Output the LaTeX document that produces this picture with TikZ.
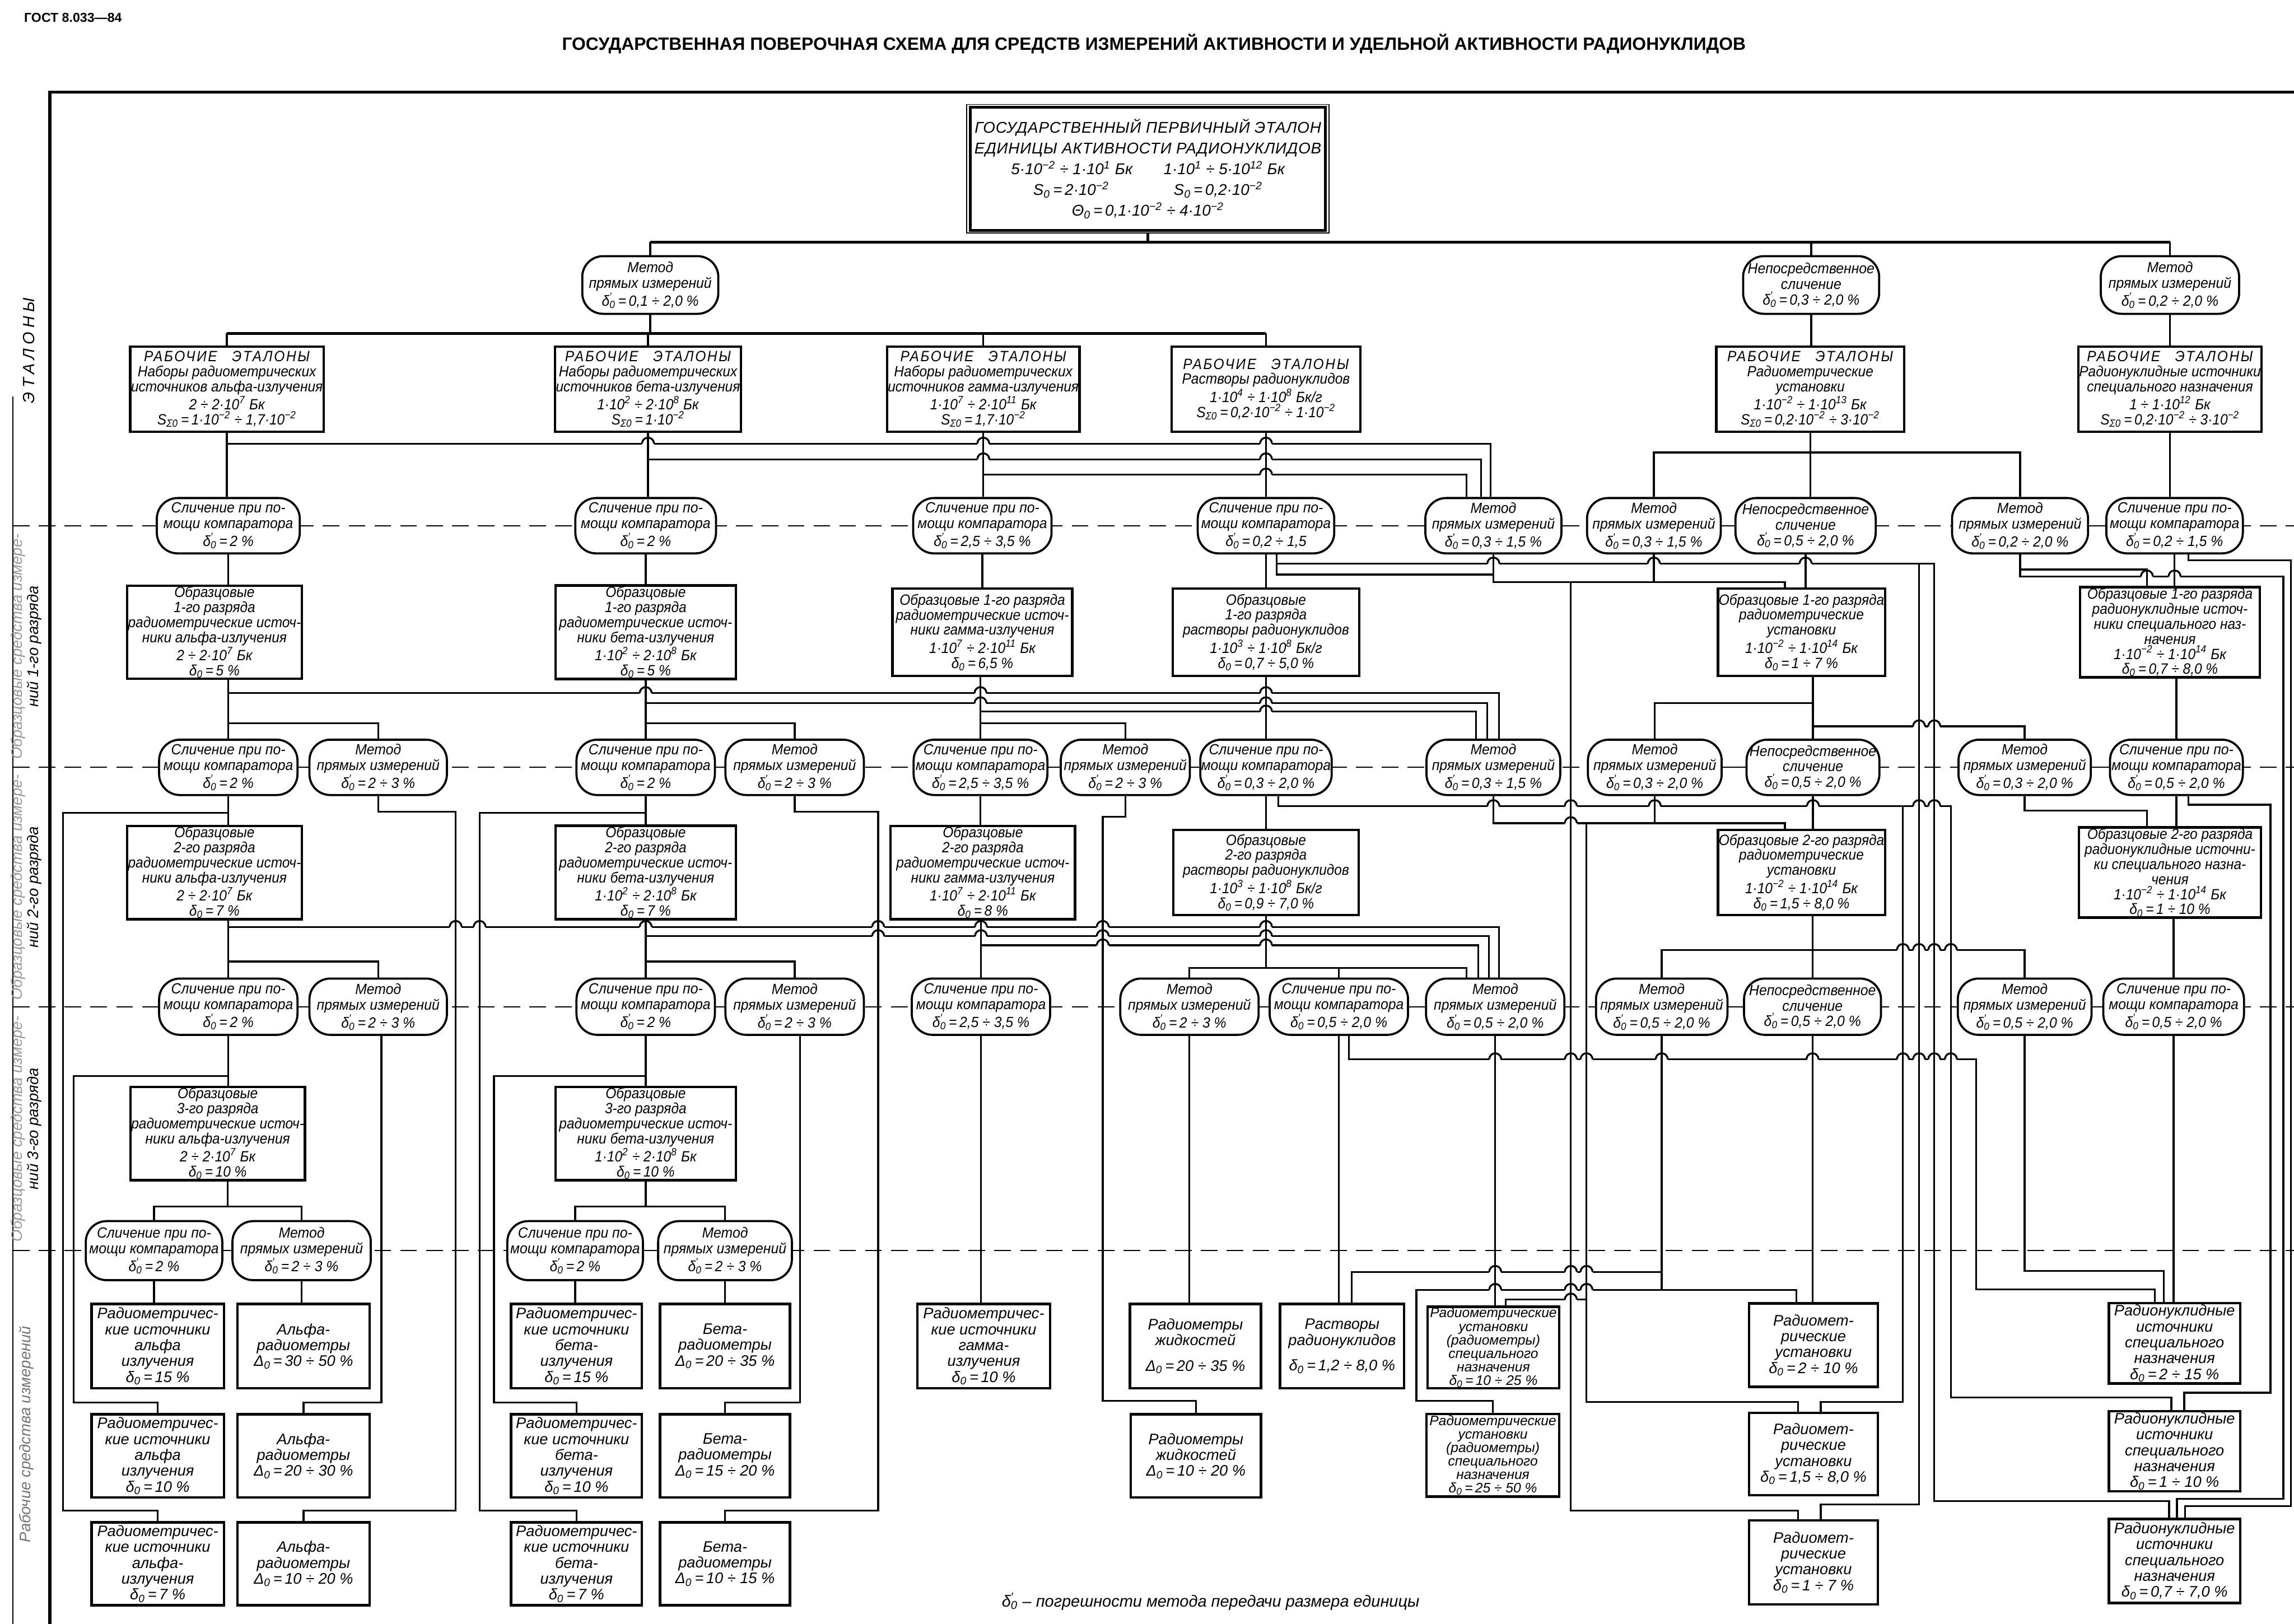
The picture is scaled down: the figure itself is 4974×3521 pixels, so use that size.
\documentclass[tikz,border=0pt]{standalone}
\usepackage{fontspec}
\setmainfont{Liberation Sans}
\newfontfamily\gfam{Liberation Sans}[FakeStretch=0.92]
\newfontfamily\gnorm{Liberation Sans}
\newfontfamily\gcap{Liberation Sans}[FakeStretch=0.94]
\usetikzlibrary{calc}
\newcommand\fB{\gfam\itshape\fontsize{9.2}{9.3}\selectfont}
\newcommand\fR{\gnorm\itshape\fontsize{9.4}{9.8}\selectfont}
\newcommand\fRs{\gnorm\itshape\fontsize{8.5}{8.3}\selectfont}
\newcommand\fC{\gcap\itshape\fontsize{9.1}{9.6}\selectfont}
\newcommand\tE[1]{\textsuperscript{#1}}
\newcommand\tdz{δ\textsubscript{0}}
\newcommand\tdzp{δ\rlap{\textsuperscript{′}}\textsubscript{0}}
\newcommand\tDZ{Δ\textsubscript{0}}
\newcommand\tSZ{S\textsubscript{Σ0}}
\newcommand\tRE{{\addfontfeature{LetterSpace=10}РАБОЧИЕ\quad ЭТАЛОНЫ}}
\newcommand\tSL[1]{Сличение при по-\\мощи компаратора\\\tdzp\,=\,#1}
\newcommand\tMT[1]{Метод\\прямых измерений\\\tdzp\,=\,#1}
\newcommand\tNS[1]{Непосредственное\\сличение\\\tdzp\,=\,#1}
\newcommand\nBX[5]{\node[bx,minimum width=#3mm,minimum height=#4mm] (#1) at (#2) {#5};}
\newcommand\nRB[5]{\node[rb,minimum width=#3mm,minimum height=#4mm] (#1) at (#2) {#5};}
\newcommand\nCP[5]{\node[capsule,minimum width=#3mm,minimum height=#4mm] (#1) at (#2) {#5};}
\newcommand\jmpx[2]{\fill[white] ({#1-13},{#2-4}) rectangle ({#1+13},{#2+4});\draw[wire] (#1,{#2-17}) -- (#1,{#2+17});\draw[wire] ({#1-13},#2) arc[start angle=180,end angle=0,radius=1.3mm];}
\begin{document}
\begin{tikzpicture}[x=0.1mm,y=-0.1mm,
 bx/.style={draw,line width=1.5pt,fill=white,align=center,inner sep=0.5pt,font=\fB},
 rb/.style={draw,line width=1.5pt,fill=white,align=center,inner sep=0.5pt,font=\fR},
 capsule/.style={draw,line width=1.3pt,fill=white,rounded corners=4.5mm,align=center,inner sep=0pt,font=\fC},
 wire/.style={line width=1.15pt},
 bus/.style={line width=1.9pt},
 dl/.style={line width=0.6pt,dash pattern=on 3.6mm off 2mm},
 lnk/.style={line width=0.8pt}]
\useasboundingbox (0,0) rectangle (4974,3521);
% frame and dashed lines
\draw[line width=1.8pt] (108,3521) -- (108,200) -- (4974,200);
\draw[line width=0.5pt] (28,860) -- (28,3521);
\foreach \yy in {1140,1664,2183,2712} \draw[dl] (28,\yy) -- (4974,\yy);
% titles
\node[anchor=west,font=\gnorm\bfseries\fontsize{8}{9}\selectfont] (gost) at (40,38) {ГОСТ 8.033—84};
\node[font=\gnorm\bfseries\fontsize{11}{13}\selectfont] (title) at (2502,95) {ГОСУДАРСТВЕННАЯ ПОВЕРОЧНАЯ СХЕМА ДЛЯ СРЕДСТВ ИЗМЕРЕНИЙ АКТИВНОСТИ И УДЕЛЬНОЙ АКТИВНОСТИ РАДИОНУКЛИДОВ};
% side labels
\node[rotate=90,font=\gnorm\itshape\fontsize{10}{11}\selectfont] (lab0) at (62,760) {{\addfontfeature{LetterSpace=25}ЭТАЛОНЫ}};
\node[rotate=90,align=center,font=\gnorm\itshape\fontsize{9.5}{10}\selectfont] (lab1) at (57,1402) {{\color{black!40}Образцовые средства измере-}\\ний 1-го разряда};
\node[rotate=90,align=center,font=\gnorm\itshape\fontsize{9.5}{10}\selectfont] (lab2) at (57,1924) {{\color{black!40}Образцовые средства измере-}\\ний 2-го разряда};
\node[rotate=90,align=center,font=\gnorm\itshape\fontsize{9.5}{10}\selectfont] (lab3) at (57,2448) {{\color{black!40}Образцовые средства измере-}\\ний 3-го разряда};
\node[rotate=90,align=center,font=\gnorm\itshape\fontsize{9.5}{10}\selectfont,text=black!55] (lab4) at (57,3110) {Рабочие средства измерений};
% main box
\node[draw,line width=0.6pt,fill=white,minimum width=78.6mm,minimum height=27.9mm,align=center,inner sep=0pt,font=\gnorm\itshape\fontsize{9.6}{12.8}\selectfont] (main) at (2489,366)
 {{\addfontfeature{LetterSpace=3}ГОСУДАРСТВЕННЫЙ ПЕРВИЧНЫЙ ЭТАЛОН}\\
  {\addfontfeature{LetterSpace=3}ЕДИНИЦЫ АКТИВНОСТИ РАДИОНУКЛИДОВ}\\
  5·10\tE{−2} ÷ 1·10\tE{1} Бк\qquad 1·10\tE{1} ÷ 5·10\tE{12} Бк\\
  S\textsubscript{0}\,=\,2·10\tE{−2}\hspace{14mm}S\textsubscript{0}\,=\,0,2·10\tE{−2}\\
  Θ\textsubscript{0}\,=\,0,1·10\tE{−2} ÷ 4·10\tE{−2}};
\draw[line width=1.8pt] ($(main.south west)+(9,-7)$) rectangle ($(main.north east)+(-9,7)$);
% row A
\nCP{M1}{1410,618}{29.5}{12.5}{\tMT{0,1 ÷ 2,0 \%}}
\nCP{N1}{3927,618}{29.5}{12.5}{\tNS{0,3 ÷ 2,0 \%}}
\nCP{M2}{4705,618}{30}{12.5}{\tMT{0,2 ÷ 2,0 \%}}
% row B
\nBX{W1}{492,844}{41.3}{18.4}{\tRE\\Наборы радиометрических\\источников альфа-излучения\\2 ÷ 2·10\tE{7} Бк\\\tSZ\,=\,1·10\tE{−2} ÷ 1,7·10\tE{−2}}
\nBX{W2}{1405,844}{40.3}{18.4}{\tRE\\Наборы радиометрических\\источников бета-излучения\\1·10\tE{2} ÷ 2·10\tE{8} Бк\\\tSZ\,=\,1·10\tE{−2}}
\nBX{W3}{2132,844}{40.0}{18.4}{\tRE\\Наборы радиометрических\\источников гамма-излучения\\1·10\tE{7} ÷ 2·10\tE{11} Бк\\\tSZ\,=\,1,7·10\tE{−2}}
\nBX{W4}{2745,844}{40.9}{18.4}{\tRE\\Растворы радионуклидов\\1·10\tE{4} ÷ 1·10\tE{8} Бк/г\\\tSZ\,=\,0,2·10\tE{−2} ÷ 1·10\tE{−2}}
\nBX{W5}{3925,844}{40.7}{18.4}{\tRE\\Радиометрические\\установки\\1·10\tE{−2} ÷ 1·10\tE{13} Бк\\\tSZ\,=\,0,2·10\tE{−2} ÷ 3·10\tE{−2}}
\nBX{W6}{4705,844}{39.0}{18.4}{\tRE\\Радионуклидные источники\\специального назначения\\1 ÷ 1·10\tE{12} Бк\\\tSZ\,=\,0,2·10\tE{−2} ÷ 3·10\tE{−2}}
% row C
\nCP{C1a}{495,1140}{31}{12}{\tSL{2 \%}}
\nCP{C2a}{1400,1140}{30.5}{12}{\tSL{2 \%}}
\nCP{C3a}{2130,1140}{30}{12}{\tSL{2,5 ÷ 3,5 \%}}
\nCP{C4a}{2745,1140}{29.6}{12}{\tSL{0,2 ÷ 1,5}}
\nCP{C4b}{3238,1140}{29.5}{12}{\tMT{0,3 ÷ 1,5 \%}}
\nCP{C5a}{3586,1140}{29}{12}{\tMT{0,3 ÷ 1,5 \%}}
\nCP{C5b}{3915,1140}{30.4}{12}{\tNS{0,5 ÷ 2,0 \%}}
\nCP{C6a}{4380,1140}{29.5}{12}{\tMT{0,2 ÷ 2,0 \%}}
\nCP{C6b}{4715,1140}{29.6}{12}{\tSL{0,2 ÷ 1,5 \%}}
% row D
\nBX{G1a}{465,1371}{37.1}{19}{Образцовые\\1-го разряда\\радиометрические источ-\\ники альфа-излучения\\2 ÷ 2·10\tE{7} Бк\\\tdz\,=\,5 \%}
\nBX{G1b}{1400,1371}{39.1}{19}{Образцовые\\1-го разряда\\радиометрические источ-\\ники бета-излучения\\1·10\tE{2} ÷ 2·10\tE{8} Бк\\\tdz\,=\,5 \%}
\nBX{G1c}{2130,1371}{39.0}{19}{Образцовые 1-го разряда\\радиометрические источ-\\ники гамма-излучения\\1·10\tE{7} ÷ 2·10\tE{11} Бк\\\tdz\,=\,6,5 \%}
\nBX{G1d}{2745,1371}{40.4}{19}{Образцовые\\1-го разряда\\растворы радионуклидов\\1·10\tE{3} ÷ 1·10\tE{8} Бк/г\\\tdz\,=\,0,7 ÷ 5,0 \%}
\nBX{G1e}{3906,1371}{35.8}{19}{Образцовые 1-го разряда\\радиометрические\\установки\\1·10\tE{−2} ÷ 1·10\tE{14} Бк\\\tdz\,=\,1 ÷ 7 \%}
\nBX{G1f}{4705,1371}{39.0}{19}{Образцовые 1-го разряда\\радионуклидные источ-\\ники специального наз-\\начения\\1·10\tE{−2} ÷ 1·10\tE{14} Бк\\\tdz\,=\,0,7 ÷ 8,0 \%}
% row E
\nCP{C1b}{495,1664}{30}{12}{\tSL{2 \%}}
\nCP{C1c}{820,1664}{29.8}{12}{\tMT{2 ÷ 3 \%}}
\nCP{C2b}{1400,1664}{30}{12}{\tSL{2 \%}}
\nCP{C2c}{1723,1664}{30}{12}{\tMT{2 ÷ 3 \%}}
\nCP{C3b}{2126,1664}{29}{12}{\tSL{2,5 ÷ 3,5 \%}}
\nCP{C3c}{2440,1664}{28}{12}{\tMT{2 ÷ 3 \%}}
\nCP{C4c}{2745,1664}{28.5}{12}{\tSL{0,3 ÷ 2,0 \%}}
\nCP{C4d}{3238,1664}{29}{12}{\tMT{0,3 ÷ 1,5 \%}}
\nCP{C5c}{3588,1664}{29}{12}{\tMT{0,3 ÷ 2,0 \%}}
\nCP{C5d}{3931,1664}{28.8}{12}{\tNS{0,5 ÷ 2,0 \%}}
\nCP{C6c}{4390,1664}{28.7}{12}{\tMT{0,3 ÷ 2,0 \%}}
\nCP{C6d}{4719,1664}{28.8}{12}{\tSL{0,5 ÷ 2,0 \%}}
% row F
\nBX{G2a}{465,1892}{37.1}{18.4}{Образцовые\\2-го разряда\\радиометрические источ-\\ники альфа-излучения\\2 ÷ 2·10\tE{7} Бк\\\tdz\,=\,7 \%}
\nBX{G2b}{1400,1892}{39.1}{18.4}{Образцовые\\2-го разряда\\радиометрические источ-\\ники бета-излучения\\1·10\tE{2} ÷ 2·10\tE{8} Бк\\\tdz\,=\,7 \%}
\nBX{G2c}{2131,1892}{40}{18.4}{Образцовые\\2-го разряда\\радиометрические источ-\\ники гамма-излучения\\1·10\tE{7} ÷ 2·10\tE{11} Бк\\\tdz\,=\,8 \%}
\nBX{G2d}{2745,1892}{40.2}{18.4}{Образцовые\\2-го разряда\\растворы радионуклидов\\1·10\tE{3} ÷ 1·10\tE{8} Бк/г\\\tdz\,=\,0,9 ÷ 7,0 \%}
\nBX{G2e}{3906,1892}{35.8}{18.4}{Образцовые 2-го разряда\\радиометрические\\установки\\1·10\tE{−2} ÷ 1·10\tE{14} Бк\\\tdz\,=\,1,5 ÷ 8,0 \%}
\nBX{G2f}{4705,1892}{39.5}{18.4}{Образцовые 2-го разряда\\радионуклидные источни-\\ки специального назна-\\чения\\1·10\tE{−2} ÷ 1·10\tE{14} Бк\\\tdz\,=\,1 ÷ 10 \%}
% row G
\nCP{C1d}{495,2183}{30}{12.2}{\tSL{2 \%}}
\nCP{C1e}{820,2183}{29.8}{12.2}{\tMT{2 ÷ 3 \%}}
\nCP{C2d}{1400,2183}{30}{12.2}{\tSL{2 \%}}
\nCP{C2e}{1723,2183}{30}{12.2}{\tMT{2 ÷ 3 \%}}
\nCP{C3d}{2127,2183}{30}{12.2}{\tSL{2,5 ÷ 3,5 \%}}
\nCP{C4e}{2579,2183}{30}{12.2}{\tMT{2 ÷ 3 \%}}
\nCP{C4f}{2903,2183}{30}{12.2}{\tSL{0,5 ÷ 2,0 \%}}
\nCP{C4g}{3242,2183}{30}{12.2}{\tMT{0,5 ÷ 2,0 \%}}
\nCP{C5e}{3603,2183}{28.5}{12.2}{\tMT{0,5 ÷ 2,0 \%}}
\nCP{C5f}{3930,2183}{29.7}{12.2}{\tNS{0,5 ÷ 2,0 \%}}
\nCP{C6e}{4390,2183}{29}{12.2}{\tMT{0,5 ÷ 2,0 \%}}
\nCP{C6f}{4713,2183}{30.5}{12.2}{\tSL{0,5 ÷ 2,0 \%}}
% row H
\nBX{G3a}{472,2458}{35.5}{19}{Образцовые\\3-го разряда\\радиометрические источ-\\ники альфа-излучения\\2 ÷ 2·10\tE{7} Бк\\\tdz\,=\,10 \%}
\nBX{G3b}{1400,2458}{39.1}{19}{Образцовые\\3-го разряда\\радиометрические источ-\\ники бета-излучения\\1·10\tE{2} ÷ 2·10\tE{8} Бк\\\tdz\,=\,10 \%}
% row I
\nCP{C1f}{334,2712}{29.6}{12.8}{\tSL{2 \%}}
\nCP{C1g}{654,2712}{30}{12.8}{\tMT{2 ÷ 3 \%}}
\nCP{C2f}{1247,2712}{29.4}{12.8}{\tSL{2 \%}}
\nCP{C2g}{1572,2712}{29}{12.8}{\tMT{2 ÷ 3 \%}}
% working instruments
\nRB{R1a}{342,2919}{28.7}{18.3}{Радиометричес-\\кие источники\\альфа\\излучения\\\tdz\,=\,15 \%}
\nRB{R1b}{658,2919}{28.7}{18.3}{Альфа-\\радиометры\\\tDZ\,=\,30 ÷ 50 \%}
\nRB{R1c}{342,3157}{28.7}{18}{Радиометричес-\\кие источники\\альфа\\излучения\\\tdz\,=\,10 \%}
\nRB{R1d}{658,3157}{28.7}{18}{Альфа-\\радиометры\\\tDZ\,=\,20 ÷ 30 \%}
\nRB{R1e}{342,3391}{28.7}{18}{Радиометричес-\\кие источники\\альфа-\\излучения\\\tdz\,=\,7 \%}
\nRB{R1f}{658,3391}{28.7}{18}{Альфа-\\радиометры\\\tDZ\,=\,10 ÷ 20 \%}
\nRB{R2a}{1250,2919}{28.4}{18.3}{Радиометричес-\\кие источники\\бета-\\излучения\\\tdz\,=\,15 \%}
\nRB{R2b}{1572,2919}{28.2}{18.3}{Бета-\\радиометры\\\tDZ\,=\,20 ÷ 35 \%}
\nRB{R2c}{1250,3157}{28.4}{18}{Радиометричес-\\кие источники\\бета-\\излучения\\\tdz\,=\,10 \%}
\nRB{R2d}{1572,3157}{28.2}{18}{Бета-\\радиометры\\\tDZ\,=\,15 ÷ 20 \%}
\nRB{R2e}{1250,3391}{28.4}{18}{Радиометричес-\\кие источники\\бета-\\излучения\\\tdz\,=\,7 \%}
\nRB{R2f}{1572,3391}{28.2}{18}{Бета-\\радиометры\\\tDZ\,=\,10 ÷ 15 \%}
\nRB{R3a}{2133,2919}{28.8}{18.3}{Радиометричес-\\кие источники\\гамма-\\излучения\\\tdz\,=\,10 \%}
\nRB{R4a}{2592,2919}{28.4}{18.3}{Радиометры\\жидкостей\\[1.2ex]\tDZ\,=\,20 ÷ 35 \%}
\nRB{R4b}{2910,2919}{26.9}{18.3}{Растворы\\радионуклидов\\[1.2ex]\tdz\,=\,1,2 ÷ 8,0 \%}
\nRB{R4c}{2593,3157}{28.2}{18}{Радиометры\\жидкостей\\\tDZ\,=\,10 ÷ 20 \%}
\node[rb,font=\fRs,minimum width=28.6mm,minimum height=17.7mm] (R5a) at (3238,2922) {Радиометрические\\установки\\(радиометры)\\специального\\назначения\\\tdz\,=\,10 ÷ 25 \%};
\node[rb,font=\fRs,minimum width=28.8mm,minimum height=17.9mm] (R5b) at (3237,3156) {Радиометрические\\установки\\(радиометры)\\специального\\назначения\\\tdz\,=\,25 ÷ 50 \%};
\nRB{R6a}{3932,2917}{27.9}{18.1}{Радиомет-\\рические\\установки\\\tdz\,=\,2 ÷ 10 \%}
\nRB{R6b}{3932,3153}{27.9}{17.9}{Радиомет-\\рические\\установки\\\tdz\,=\,1,5 ÷ 8,0 \%}
\nRB{R6c}{3932,3388}{27.9}{18.2}{Радиомет-\\рические\\установки\\\tdz\,=\,1 ÷ 7 \%}
\nRB{R7a}{4715,2913}{28.5}{17.4}{Радионуклидные\\источники\\специального\\назначения\\\tdz\,=\,2 ÷ 15 \%}
\nRB{R7b}{4715,3147}{28.5}{17.4}{Радионуклидные\\источники\\специального\\назначения\\\tdz\,=\,1 ÷ 10 \%}
\nRB{R7c}{4715,3385}{28.5}{18.2}{Радионуклидные\\источники\\специального\\назначения\\\tdz\,=\,0,7 ÷ 7,0 \%}
% footnote
\node[font=\gnorm\itshape\fontsize{10}{12}\selectfont] (fn) at (2625,3473) {\tdzp\ – погрешности метода передачи размера единицы};
% ===== connectors =====
\draw[bus] (main.south) -- (main.south |- 0,525);
\draw[bus] (1410,525) -- (4705,525);
\draw[wire] (M1.north) -- (M1.north |- 0,525);
\draw[wire] (N1.north) -- (N1.north |- 0,525);
\draw[wire] (M2.north) -- (M2.north |- 0,525);
\draw[bus] (492,723) -- (2745,723);
\draw[wire] (M1.south) -- (M1.south |- 0,723);
\foreach \n in {W1,W2,W3,W4} \draw[wire] (\n.north) -- (\n.north |- 0,723);
\draw[wire] (N1.south) -- (N1.south |- W5.north);
\draw[wire] (M2.south) -- (M2.south |- W6.north);
% B -> C
\draw[wire] (W1.south) -- (W1.south |- C1a.north);
\draw[wire] (W2.south) -- (W2.south |- C2a.north);
\draw[wire] (W3.south) -- (W3.south |- C3a.north);
\draw[wire] (W4.south) -- (W4.south |- C4a.north);
\draw[wire] (W5.south) -- (W5.south |- C5b.north);
\draw[wire] (W6.south) -- (W6.south |- C6b.north);
\draw[wire] (C5a.north) |- (C6a.north |- 0,981) -- (C6a.north);
\draw[wire] (W1.south |- 0,962) -- (3232,962) -- (3232,0 |- C4b.north);
\draw[wire] (W2.south |- 0,996) -- (3211,996) -- (3211,0 |- C4b.north);
\draw[wire] (W3.south |- 0,1029) -- (3180,1029) -- (3180,0 |- C4b.north);
% C -> D
\draw[wire] (C1a.south) -- (C1a.south |- G1a.north);
\draw[wire] (C2a.south) -- (C2a.south |- G1b.north);
\draw[wire] (C3a.south) -- (C3a.south |- G1c.north);
\draw[wire] (C4a.south) -- (C4a.south |- G1d.north);
\draw[wire] (C5b.south) -- (C5b.south |- G1e.north);
\draw[wire] (C6b.south) -- (C6b.south |- G1f.north);
\draw[wire] (C4b.south) |- (3870,1262) -- (3870,0 |- G1e.north);
\draw[wire] (C5a.south) -- (C5a.south |- 0,1262);
\draw[wire] (C4a.south -| 2768,0) |- (C4b.south |- 0,1246);
\draw[wire] (3406,1262) |- (3899,3276) -- (3899,0 |- R6c.north);
\draw[wire] (C6a.south) |- (4655,1235) -- (4655,0 |- G1f.north);
\draw[wire] (4380,1235) |- (4951,1250) |- (4720,3250) -- (4720,0 |- R7c.north);
\draw[wire] (C6b.south -| 4745,0) |- (4967,1215) |- (4738,3266) -- (4738,0 |- R7c.north);
\draw[wire] (2768,1222) -- (4194,1222) |- (4703,3255) -- (4703,0 |- R7c.north);
\draw[wire] (4161,1222) |- (3948,3262) -- (3948,0 |- R6c.north);
% D -> E
\draw[wire] (C1b.north) -- (C1b.north |- G1a.south);
\draw[wire] (C1b.north |- 0,1568) -| (C1c.north);
\draw[wire] (C2b.north) -- (C2b.north |- G1b.south);
\draw[wire] (C2b.north |- 0,1568) -| (C2c.north);
\draw[wire] (C3b.north) -- (C3b.north |- G1c.south);
\draw[wire] (C3b.north |- 0,1568) -| (C3c.north);
\draw[wire] (G1d.south -| C4c.north) -- (C4c.north);
\draw[wire] (G1e.south -| C5d.north) -- (C5d.north);
\draw[wire] (C5c.north) |- (3931,1525);
\draw[wire] (3931,1575) -| (C6c.north);
\draw[wire] (G1f.south -| C6d.north) -- (C6d.north);
\draw[wire] (C1b.north |- 0,1503) -- (3250,1503) -- (3250,0 |- C4d.north);
\draw[wire] (C2b.north |- 0,1525) -- (3225,1525) -- (3225,0 |- C4d.north);
\draw[wire] (C3b.north |- 0,1543) -- (3200,1543) -- (3200,0 |- C4d.north);
% E -> F
\draw[wire] (C1b.south) -- (C1b.south |- G2a.north);
\draw[wire] (C1b.south |- 0,1763) -| (137,3276) -| (R1e.north);
\draw[wire] (C1c.south) |- (988,1760) |- (658,3276) -- (R1f.north);
\draw[wire] (C2b.south) -- (C2b.south |- G2b.north);
\draw[wire] (C2b.south |- 0,1763) -| (1040,3276) -| (R2e.north);
\draw[wire] (C2c.south) |- (1904,1760) |- (1572,3276) -- (R2f.north);
\draw[wire] (C3b.south) -- (C3b.south |- G2c.north);
\draw[wire] (C3c.south) |- (2391,1771) |- (2593,3038) -- (R4c.north);
\draw[wire] (C4c.south) -- (C4c.south |- G2d.north);
\draw[wire] (C4c.south -| 2772,0) |- (4230,1748) |- (4708,3030) -- (4708,0 |- R7b.north);
\draw[wire] (4126,1748) |- (3948,3040) -- (3948,0 |- R6b.north);
\draw[wire] (C4d.south) |- (3870,1785) -- (3870,0 |- G2e.north);
\draw[wire] (C5c.south) -- (C5c.south |- 0,1785);
\draw[wire] (3440,1785) |- (3899,3040) -- (3899,0 |- R6b.north);
\draw[wire] (3440,2818) -| (3265,0 |- R5a.north);
\draw[wire] (C5d.south) -- (C5d.south |- G2e.north);
\draw[wire] (C6c.south) |- (4655,1758) -- (4655,0 |- G2f.north);
\draw[wire] (C6d.south) -- (C6d.south |- G2f.north);
\draw[wire] (C6d.south -| 4745,0) |- (4923,1745) |- (4736,3020) -- (4736,0 |- R7b.north);
% F -> G
\draw[wire] (C1d.north) -- (C1d.north |- G2a.south);
\draw[wire] (C1d.north |- 0,2085) -| (C1e.north);
\draw[wire] (C2d.north) -- (C2d.north |- G2b.south);
\draw[wire] (C2d.north |- 0,2085) -| (C2e.north);
\draw[wire] (G2c.south -| C3d.north) -- (C3d.north);
\draw[wire] (G2d.south) -- (G2d.south |- 0,2099);
\draw[wire] (C4e.north) |- (3180,2099) -- (3180,0 |- C4g.north);
\draw[wire] (C4f.north) -- (C4f.north |- 0,2099);
\draw[wire] (C1d.north |- 0,2010) -- (3250,2010) -- (3250,0 |- C4g.north);
\draw[wire] (C2d.north |- 0,2030) -- (3228,2030) -- (3228,0 |- C4g.north);
\draw[wire] (C3d.north |- 0,2050) -- (3205,2050) -- (3205,0 |- C4g.north);
\draw[wire] (G2e.south -| C5f.north) -- (C5f.north);
\draw[wire] (C5e.north) |- (C6e.north |- 0,2060) -- (C6e.north);
\draw[wire] (G2f.south -| C6f.north) -- (C6f.north);
% G -> H, J
\draw[wire] (C1d.south) -- (C1d.south |- G3a.north);
\draw[wire] (C1d.south |- 0,2333) -| (160,3041) -| (R1c.north);
\draw[wire] (C1e.south -| 827,0) |- (658,3041) -- (R1d.north);
\draw[wire] (C2d.south) -- (C2d.south |- G3b.north);
\draw[wire] (C2d.south |- 0,2333) -| (1071,3041) -| (R2c.north);
\draw[wire] (C2e.south -| 1735,0) |- (1572,3041) -- (R2d.north);
\draw[wire] (C3d.south) -- (C3d.south |- R3a.north);
\draw[wire] (C4e.south) -- (C4e.south |- R4a.north);
\draw[wire] (C4f.south) -- (C4f.south |- R4b.north);
\draw[wire] (C4f.south -| 2925,0) |- (4285,2297) |- (4672,2796) -- (4672,0 |- R7a.north);
\draw[wire] (C4g.south) -- (C4g.south |- R5a.north);
\draw[wire] (C5e.south) -- (3603,2797);
\draw[wire] (3603,2758) -| (2931,0 |- R4b.north);
\draw[wire] (R5b.north) -- (R5b.north |- 0,3038) -| (3071,2797) -| (3895,0 |- R6a.north);
\draw[wire] (C5f.south) -- (C5f.south |- R6a.north);
\draw[wire] (C6e.south) |- (4692,2756) -- (4692,0 |- R7a.north);
\draw[wire] (C6f.south) -- (C6f.south |- R7a.north);
% H -> I -> J
\draw[wire] (G3a.south -| 494,0) -- (494,2616);
\draw[wire] (C1f.north) |- (C1g.north |- 0,2616) -- (C1g.north);
\draw[wire] (G3b.south -| 1400,0) -- (1400,2616);
\draw[wire] (C2f.north) |- (C2g.north |- 0,2616) -- (C2g.north);
\draw[wire] (C1f.south) -- (C1f.south |- R1a.north);
\draw[wire] (C1g.south) -- (C1g.south |- R1b.north);
\draw[wire] (C2f.south) -- (C2f.south |- R2a.north);
\draw[wire] (C2g.south) -- (C2g.south |- R2b.north);
% links between neighbouring capsules
\draw[lnk] (C5a.east) -- (C5b.west);
\draw[lnk] (C6a.east) -- (C6b.west);
\draw[lnk] (C1b.east) -- (C1c.west);
\draw[lnk] (C2b.east) -- (C2c.west);
\draw[lnk] (C3b.east) -- (C3c.west);
\draw[lnk] (C3c.east) -- (C4c.west);
\draw[lnk] (C5c.east) -- (C5d.west);
\draw[lnk] (C6c.east) -- (C6d.west);
\draw[lnk] (C1d.east) -- (C1e.west);
\draw[lnk] (C2d.east) -- (C2e.west);
\draw[lnk] (C4e.east) -- (C4f.west);
\draw[lnk] (C4f.east) -- (C4g.west);
\draw[lnk] (C5e.east) -- (C5f.west);
\draw[lnk] (C6e.east) -- (C6f.west);
\draw[lnk] (C1f.east) -- (C1g.west);
\draw[lnk] (C2f.east) -- (C2g.west);
% jumps at crossings
\foreach \a/\b in {1405/962,2132/962,2745/962,2132/996,2745/996,2745/1029,
 3238/1222,3586/1222,3915/1222,4655/1250,4715/1250,
 1400/1503,2126/1503,2745/1503,2126/1525,2745/1525,2745/1543,4161/1575,4194/1575,
 3238/1748,3588/1748,3931/1748,3406/1748,4161/1748,4194/1748,3406/1785,
 988/2010,1040/2010,1400/2010,1904/2010,2127/2010,2391/2010,2745/2010,
 1904/2030,2127/2030,2391/2030,2745/2030,2391/2050,2745/2050,
 4126/2060,4161/2060,4194/2060,4230/2060,
 3242/2297,3406/2297,3440/2297,3603/2297,3930/2297,4126/2297,4161/2297,4194/2297,4230/2297,
 3242/2758,3406/2758,3440/2758,3242/2797,3406/2797,3440/2797,3406/2818}
 {\jmpx{\a}{\b}}
\end{tikzpicture}
\end{document}
